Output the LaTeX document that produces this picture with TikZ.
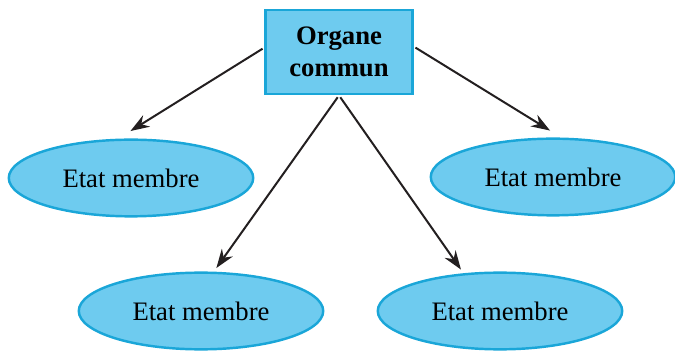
\documentclass[tikz,border=0pt]{standalone}
\usepackage{fontspec}
\setmainfont{Liberation Serif}
\usetikzlibrary{positioning, shapes.geometric, arrows.meta}
\definecolor{orgfill}{HTML}{6ECBEF}
\definecolor{orgline}{HTML}{1AA6D8}
\definecolor{flgray}{HTML}{231F20}

\begin{document}
\begin{tikzpicture}[x=0.45pt, y=-0.45pt,
          org/.style={draw=orgline, fill=orgfill, line width=1.1pt, font=\fontsize{12}{14.5}\selectfont\bfseries, minimum width=66pt, minimum height=38pt, align=center, inner sep=0pt},
          etat/.style={ellipse, draw=orgline, fill=orgfill, line width=1.1pt, font=\fontsize{12}{14.5}\selectfont, minimum width=110pt, minimum height=34.5pt, inner sep=0pt},
          fl/.style={draw=flgray, line width=0.9pt, -{Stealth[length=8.5pt, width=6pt]}}]
        \useasboundingbox (0,0) rectangle (675,354);
        \node[org] (org) at (339,52) {Organe\\commun};
        \node[etat] (e1) at (131,178) {Etat membre};
        \node[etat] (e2) at (553,177) {Etat membre};
        \node[etat] (e3) at (201,311) {Etat membre};
        \node[etat] (e4) at (500,311) {Etat membre};
        % fleches
        \draw[fl, shorten <=1pt, shorten >=6.5pt] ([yshift=2pt]org.west) -- (e1.108);
        \draw[fl, shorten <=1pt, shorten >=6pt] ([yshift=2.5pt]org.east) -- (e2.78);
        \draw[fl, shorten <=1pt, shorten >=2pt] (org.south) -- (e3.72);
        \draw[fl, shorten <=1pt, shorten >=2pt] (org.south) -- (e4.134);
      \end{tikzpicture}
\end{document}
